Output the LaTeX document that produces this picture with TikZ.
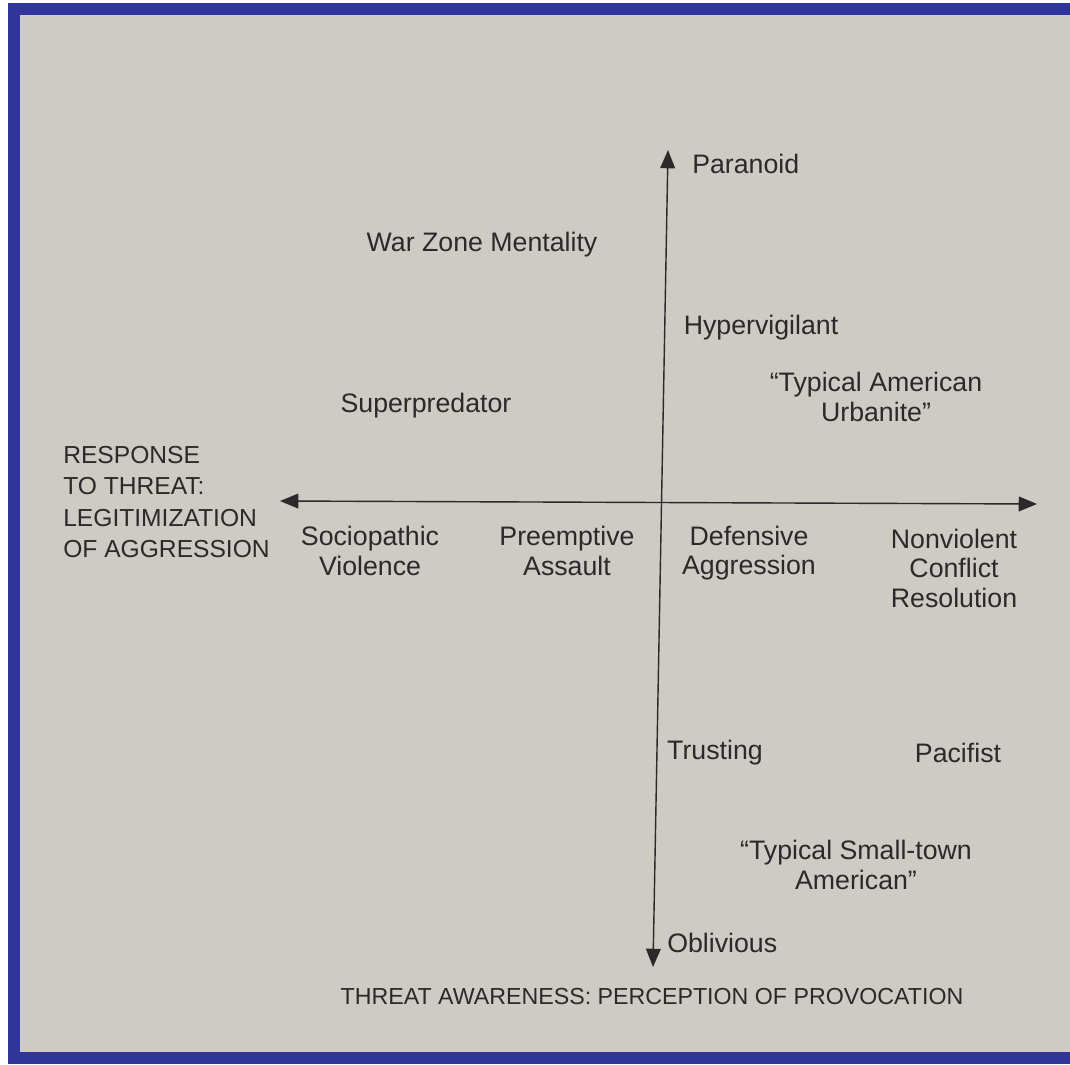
\documentclass[tikz,border=0pt]{standalone}
\usepackage{fontspec}
\setmainfont{Liberation Sans}
\usepackage{tikz}
\usetikzlibrary{arrows.meta}
\definecolor{penblue}{HTML}{30359A}
\definecolor{paper}{HTML}{CECAC4}
\definecolor{ink}{HTML}{2A2A2A}
\tikzset{
  lbl/.style={text=ink,inner sep=0pt,font=\fontsize{19}{21}\selectfont},
  axlbl/.style={lbl,font=\fontsize{17.5}{22.5}\selectfont},
  axis/.style={{Triangle[length=13pt,width=10.5pt]}-{Triangle[length=13pt,width=10.5pt]},line width=1pt,ink},
}

\begin{document}
\begin{tikzpicture}[x=0.025cm,y=-0.025cm]
    \useasboundingbox (0,0) rectangle (1070,1064);
    \fill[white] (0,0) rectangle (1070,1064);
    \begin{scope}
      \clip (0,0) rectangle (1070,1064);
      \draw[penblue,line width=8.5pt,fill=paper] (14,9) rectangle (1085,1058);
    \end{scope}
    % axes
    \coordinate (top) at (668,150);
    \coordinate (bot) at (653,967);
    \coordinate (lft) at (280,501);
    \coordinate (rgt) at (1037,504);
    \draw[axis] (bot) -- (top);
    \draw[axis] (lft) -- (rgt);
    % vertical axis ends
    \node[lbl,anchor=west] (paranoid) at (692,164) {Paranoid};
    \node[lbl,anchor=west] (oblivious) at (667,943) {Oblivious};
    \node[axlbl,font=\fontsize{16.5}{20}\selectfont] (awareness) at (652,996) {THREAT AWARENESS: PERCEPTION OF PROVOCATION};
    \node[axlbl,align=left,anchor=west] (response) at (63,502)
      {RESPONSE\\TO THREAT:\\LEGITIMIZATION\\OF AGGRESSION};
    % horizontal axis entries
    \node[lbl,align=center] (sociopathic) at (370,551) {Sociopathic\\Violence};
    \node[lbl,align=center] (preemptive) at (567,551) {Preemptive\\Assault};
    \node[lbl,align=center] (defensive) at (749,553) {Defensive\\Aggression};
    \node[lbl,align=center] (nonviolent) at (954,568) {Nonviolent\\Conflict\\Resolution};
    % quadrants
    \node[lbl] (warzone) at (482,245) {War Zone Mentality};
    \node[lbl] (hyper) at (761,328) {Hypervigilant};
    \node[lbl,align=center] (urbanite) at (876,397) {``Typical American\\Urbanite''};
    \node[lbl] (superpred) at (426,406) {Superpredator};
    \node[lbl] (trusting) at (715,753) {Trusting};
    \node[lbl] (pacifist) at (958,753) {Pacifist};
    \node[lbl,align=center] (smalltown) at (856,865) {``Typical Small-town\\American''};
\end{tikzpicture}
\end{document}
